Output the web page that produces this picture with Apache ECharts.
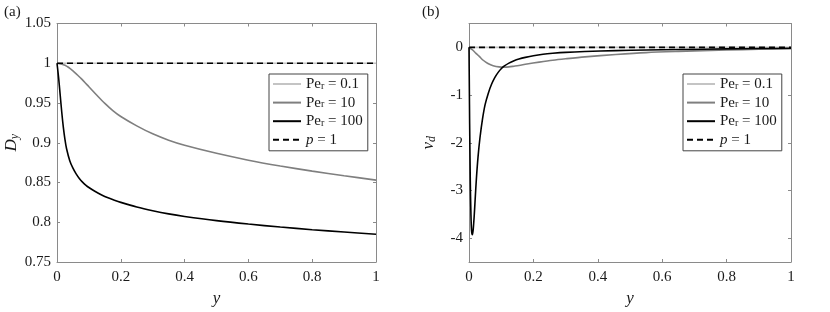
<!DOCTYPE html>
<html><head><meta charset="utf-8">
<script src="https://cdn.jsdelivr.net/npm/echarts@6/dist/echarts.min.js"></script>
<style>html,body{margin:0;padding:0;background:#fff}#c{width:830px;height:312px}</style>
</head><body><div id="c"></div>
<script>
const seriesNames = ['Pe_r = 0.1', 'Pe_r = 10', 'Pe_r = 100', 'p = 1'];
const xTicks = [0, 0.2, 0.4, 0.6, 0.8, 1];
const dyTicks = [0.75, 0.8, 0.85, 0.9, 0.95, 1, 1.05];
const vdTicks = [-4, -3, -2, -1, 0];

// Panel (a): D_y
const aPe01X = [0, 0.25, 0.5, 0.75, 1];
const aPe01Y = [1, 1, 1, 1, 1];
const aPe10X = [0, 0.025, 0.05, 0.075, 0.1, 0.125, 0.15, 0.175, 0.2, 0.25, 0.3, 0.35, 0.4, 0.5, 0.6, 0.7, 0.8, 0.9, 1];
const aPe10Y = [1, 0.9975, 0.9905, 0.981, 0.9705, 0.9598, 0.9495, 0.9405, 0.933, 0.9212, 0.9112, 0.9032, 0.8968, 0.8867, 0.8781, 0.8708, 0.8643, 0.8585, 0.853];
const aPe100X = [0, 0.005, 0.01, 0.015, 0.02, 0.025, 0.03, 0.04, 0.05, 0.06, 0.07, 0.08, 0.09, 0.1, 0.12, 0.14, 0.16, 0.18, 0.2, 0.25, 0.3, 0.35, 0.4, 0.5, 0.6, 0.7, 0.8, 0.9, 1];
const aPe100Y = [1, 0.982, 0.96, 0.938, 0.919, 0.904, 0.8925, 0.8775, 0.868, 0.8608, 0.855, 0.8505, 0.8468, 0.8437, 0.8386, 0.8343, 0.8307, 0.8277, 0.825, 0.8192, 0.8145, 0.8105, 0.8073, 0.802, 0.7977, 0.794, 0.7906, 0.7877, 0.785];
const aP1X = [0, 1];
const aP1Y = [1, 1];

// Panel (b): v_d
const bPe01X = [0, 0.25, 0.5, 0.75, 1];
const bPe01Y = [0, 0, 0, 0, 0];
const bPe10X = [0, 0.01, 0.021, 0.032, 0.042, 0.052, 0.062, 0.075, 0.093, 0.11, 0.124, 0.14, 0.155, 0.18, 0.218, 0.26, 0.3, 0.36, 0.456, 0.55, 0.65, 0.8, 0.9, 1];
const bPe10Y = [0, -0.05, -0.12, -0.19, -0.26, -0.31, -0.35, -0.385, -0.41, -0.415, -0.41, -0.395, -0.38, -0.35, -0.31, -0.27, -0.24, -0.2, -0.15, -0.11, -0.085, -0.055, -0.04, -0.03];
const bPe100X = [0, 0.001, 0.002, 0.004, 0.006, 0.008, 0.0105, 0.013, 0.016, 0.019, 0.023, 0.028, 0.034, 0.042, 0.05, 0.06, 0.07, 0.08, 0.09, 0.1, 0.11, 0.124, 0.14, 0.155, 0.175, 0.2, 0.23, 0.26, 0.3, 0.36, 0.456, 0.55, 0.65, 0.8, 0.9, 1];
const bPe100Y = [0, -0.8, -1.6, -2.8, -3.5, -3.85, -3.93, -3.82, -3.55, -3.2, -2.75, -2.3, -1.9, -1.5, -1.2, -0.96, -0.775, -0.635, -0.53, -0.45, -0.39, -0.33, -0.28, -0.245, -0.21, -0.175, -0.145, -0.125, -0.105, -0.087, -0.068, -0.055, -0.045, -0.032, -0.025, -0.02];
const bP1X = [0, 1];
const bP1Y = [0, 0];

const FONT = '"Liberation Serif", "Times New Roman", serif';
const AXC = '#8a8a8a';
const TXT = '#1a1a1a';
const colors = ['#c4c4c4', '#7f7f7f', '#000000', '#000000'];

function pairs(xs, ys) { return xs.map((x, i) => [x, ys[i]]); }

const rich = {
  a: { fontFamily: FONT, fontSize: 15, lineHeight: 14, color: TXT },
  i: { fontFamily: FONT, fontSize: 15, lineHeight: 14, color: TXT, fontStyle: 'italic' },
  s: { fontFamily: FONT, fontSize: 10, lineHeight: 6, color: TXT, verticalAlign: 'bottom' }
};
function legendFmt(name) {
  if (name.indexOf('Pe_r') === 0) return '{a|Pe}{s|r}{a|' + name.slice(4) + '}';
  return '{i|p}{a| = 1}';
}

function gridAxes(gi, yMin, yMax, yTicks) {
  const common = {
    gridIndex: gi, type: 'value',
    axisLine: { show: true, onZero: false, lineStyle: { color: AXC, width: 1 } },
    splitLine: { show: false }
  };
  const xs = [
    Object.assign({}, common, {
      position: 'bottom', min: 0, max: 1,
      axisTick: { inside: true, length: 3, lineStyle: { color: AXC }, customValues: xTicks },
      axisLabel: { customValues: xTicks, margin: 8, fontFamily: FONT, fontSize: 15, color: TXT },
      name: 'y', nameLocation: 'middle', nameGap: 28,
      nameTextStyle: { fontFamily: FONT, fontSize: 17, fontStyle: 'italic', color: TXT }
    }),
    Object.assign({}, common, {
      position: 'top', min: 0, max: 1,
      axisTick: { inside: true, length: 3, lineStyle: { color: AXC }, customValues: xTicks },
      axisLabel: { show: false }
    })
  ];
  const ys = [
    Object.assign({}, common, {
      position: 'left', min: yMin, max: yMax,
      axisTick: { inside: true, length: 3, lineStyle: { color: AXC }, customValues: yTicks },
      axisLabel: { customValues: yTicks, margin: 6, fontFamily: FONT, fontSize: 15, color: TXT }
    }),
    Object.assign({}, common, {
      position: 'right', min: yMin, max: yMax,
      axisTick: { inside: true, length: 3, lineStyle: { color: AXC }, customValues: yTicks },
      axisLabel: { show: false }
    })
  ];
  return { xs, ys };
}

const A = gridAxes(0, 0.75, 1.05, dyTicks);
const B = gridAxes(1, -4.5, 0.5, vdTicks);
A.ys[0].name = '{i|D}{si|y}';
B.ys[0].name = '{i|v}{si|d}';
const nameRich = {
  i: { fontFamily: FONT, fontSize: 17, lineHeight: 18, fontStyle: 'italic', color: TXT },
  si: { fontFamily: FONT, fontSize: 12, lineHeight: 8, fontStyle: 'italic', color: TXT, verticalAlign: 'bottom' }
};
[[A.ys[0], 36], [B.ys[0], 31]].forEach(([ax, gap]) => {
  ax.nameLocation = 'middle';
  ax.nameGap = gap;
  ax.nameRotate = 90;
  ax.nameTextStyle = { rich: nameRich };
});

const panelData = [
  [pairs(aPe01X, aPe01Y), pairs(aPe10X, aPe10Y), pairs(aPe100X, aPe100Y), pairs(aP1X, aP1Y)],
  [pairs(bPe01X, bPe01Y), pairs(bPe10X, bPe10Y), pairs(bPe100X, bPe100Y), pairs(bP1X, bP1Y)]
];

const series = [];
panelData.forEach((pd, p) => {
  pd.forEach((d, k) => {
    series.push({
      type: 'line', name: seriesNames[k], data: d,
      xAxisIndex: p * 2, yAxisIndex: p * 2,
      symbol: 'none', showSymbol: false, smooth: k === 1 || k === 2 ? 0.3 : false,
      lineStyle: { color: colors[k], width: 1.6, type: k === 3 ? [6, 4] : 'solid' },
      itemStyle: { color: colors[k] },
      z: 2 + k, animation: false
    });
  });
});

function legendAt(left) {
  return {
    data: seriesNames, orient: 'vertical', left: left, top: 74,
    padding: [2.5, 5, 3.5, 3], itemGap: 3.6, itemWidth: 28, itemHeight: 14,
    borderColor: '#444', borderWidth: 1, backgroundColor: '#fff',
    selectedMode: false,
    itemStyle: { opacity: 0, borderWidth: 0, color: 'transparent' },
    formatter: legendFmt,
    textStyle: { fontFamily: FONT, fontSize: 15, color: TXT, rich: rich }
  };
}

const chart = echarts.init(document.getElementById('c'), null, { renderer: 'canvas' });
chart.setOption({
  animation: false,
  backgroundColor: '#fff',
  grid: [
    { left: 57, right: 454, top: 23.5, bottom: 46.5, containLabel: false },
    { left: 469, right: 39, top: 23.5, bottom: 46.5, containLabel: false }
  ],
  xAxis: A.xs.concat(B.xs),
  yAxis: A.ys.concat(B.ys),
  legend: [legendAt(269), legendAt(683)],
  series: series,
  graphic: [
    { type: 'text', left: 4, top: 5, style: { text: '(a)', font: '15px "Liberation Serif"', fill: TXT } },
    { type: 'text', left: 422, top: 5, style: { text: '(b)', font: '15px "Liberation Serif"', fill: TXT } }
  ]
});
</script></body></html>
